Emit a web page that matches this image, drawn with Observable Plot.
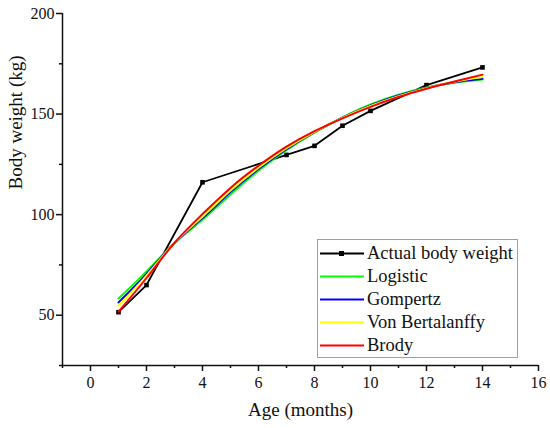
<!DOCTYPE html>
<html>
<head>
<meta charset="utf-8">
<script src="https://cdn.jsdelivr.net/npm/d3@7"></script>
<script src="https://cdn.jsdelivr.net/npm/@observablehq/plot@0.6"></script>
<style>
  html, body { margin: 0; padding: 0; background: white; }
  #wrap { position: relative; width: 550px; height: 428px; font-family: 'Liberation Serif', 'Times New Roman', serif; }
  #wrap svg text { font-family: 'Liberation Serif', 'Times New Roman', serif; }
  #legend { position: absolute; left: 317px; top: 239px; width: 199px; height: 117px; border: 1px solid #a0a0a0; background: white; }
  .row { position: absolute; left: 0; height: 23px; width: 199px; }
  .row svg { position: absolute; left: 1px; top: 0; }
  .row span { position: absolute; left: 49px; top: 0; line-height: 23px; font-size: 18.5px; color: #111; white-space: nowrap; font-family: 'Liberation Serif', 'Times New Roman', serif; }
</style>
</head>
<body>
<div id="wrap"></div>
<script>
// Actual observations
const months = [1, 2, 4, 7, 8, 9, 10, 12, 14];
const actualWeight = [51.5, 65, 116.1, 129.7, 134.2, 144.2, 151.6, 164.4, 173.2];

// Fitted curves
const fitMonths = [1, 2, 3, 4, 5, 6, 7, 8, 9, 10, 11, 12, 13, 14];
const logistic   = [58.3, 71.8, 85.8, 97.5, 110.0, 121.8, 132.0, 140.8, 148.4, 154.8, 159.6, 163.2, 165.6, 167.2];
const gompertz   = [56.3, 70.5, 86.0, 98.3, 111.2, 122.7, 132.6, 141.0, 148.2, 154.3, 159.2, 163.0, 165.8, 167.5];
const bertalanffy= [54.8, 69.7, 86.0, 99.0, 112.0, 123.3, 133.0, 141.2, 148.1, 154.0, 158.9, 162.9, 166.1, 168.4];
const brody      = [51.8, 68.5, 86.0, 100.3, 113.3, 124.3, 133.8, 141.5, 147.9, 153.6, 158.5, 162.6, 166.2, 169.6];

const seriesNames = ["Actual body weight", "Logistic", "Gompertz", "Von Bertalanffy", "Brody"];
const seriesColors = ["#000000", "#00ff00", "#0000ff", "#ffff00", "#ff0000"];

const xMajor = [0, 2, 4, 6, 8, 10, 12, 14, 16];
const xMinor = [-1, 1, 3, 5, 7, 9, 11, 13, 15];
const yMajor = [50, 100, 150, 200];
const yMinor = [25, 75, 125, 175];

const actual = months.map((m, i) => ({x: m, y: actualWeight[i]}));
const fits = [logistic, gompertz, bertalanffy, brody].map(arr => fitMonths.map((m, i) => ({x: m, y: arr[i]})));

const font = "'Liberation Serif', 'Times New Roman', serif";

const chart = Plot.plot({
  width: 550,
  height: 428,
  marginLeft: 62,
  marginRight: 12,
  marginTop: 13,
  marginBottom: 63,
  style: {fontFamily: font, fontSize: "16px", background: "white", color: "#111"},
  x: {domain: [-1, 16]},
  y: {domain: [25, 200]},
  marks: [
    Plot.axisX({ticks: xMajor, tickSize: 6, tickPadding: 5, fontSize: 16, fontFamily: font, label: null, strokeWidth: 1.5}),
    Plot.axisX({ticks: xMinor, tickSize: 3, tickFormat: () => "", label: null, strokeWidth: 1.5}),
    Plot.axisY({ticks: yMajor, tickSize: 6, tickPadding: 2, fontSize: 16, fontFamily: font, label: null, strokeWidth: 1.5}),
    Plot.axisY({ticks: yMinor, tickSize: 3, tickFormat: () => "", label: null, strokeWidth: 1.5}),
    Plot.ruleX([-1], {strokeWidth: 1.5}),
    Plot.ruleY([25], {strokeWidth: 1.5}),
    Plot.text(["Age (months)"], {frameAnchor: "bottom", dy: 50, fontSize: 19, fontFamily: font, fill: "#111"}),
    Plot.text(["Body weight (kg)"], {frameAnchor: "left", dx: -47, rotate: -90, fontSize: 19, fontFamily: font, fill: "#111"}),
    Plot.line(actual, {x: "x", y: "y", stroke: seriesColors[0], strokeWidth: 1.8}),
    Plot.dot(actual, {x: "x", y: "y", symbol: "square", fill: seriesColors[0], r: 2.6}),
    ...fits.map((f, i) => Plot.line(f, {x: "x", y: "y", stroke: seriesColors[i + 1], strokeWidth: 2, curve: "natural"}))
  ]
});

const wrap = document.getElementById("wrap");
wrap.appendChild(chart);

// Legend overlay
const legend = document.createElement("div");
legend.id = "legend";
seriesNames.forEach((name, i) => {
  const row = document.createElement("div");
  row.className = "row";
  row.style.top = (1.5 + 23 * i) + "px";
  const marker = i === 0 ? `<rect x="20" y="9" width="5" height="5" fill="${seriesColors[i]}"/>` : "";
  row.innerHTML = `<svg width="46" height="23"><line x1="1" x2="45" y1="11.5" y2="11.5" stroke="${seriesColors[i]}" stroke-width="${i === 0 ? 1.8 : 2}"/>${marker}</svg><span>${name}</span>`;
  legend.appendChild(row);
});
wrap.appendChild(legend);
</script>
</body>
</html>
